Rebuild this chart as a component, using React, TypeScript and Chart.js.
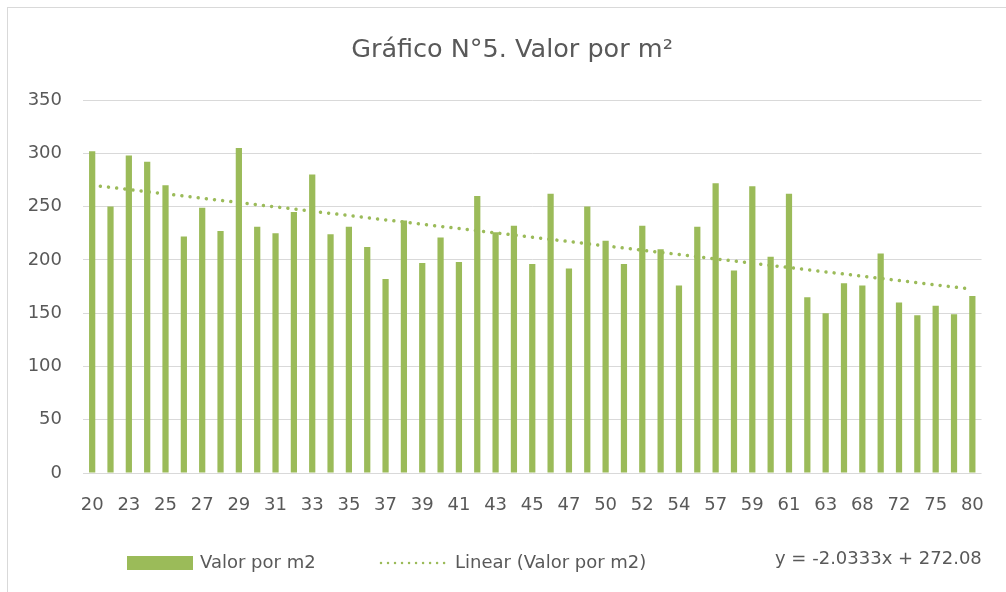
import React, { useEffect, useRef } from "react";
import { Chart, registerables } from "chart.js";

Chart.register(...registerables);

const TITLE = "Gráfico N°5. Valor por m²";
const SERIES_LABEL = "Valor por m2";
const TREND_LABEL = "Linear (Valor por m2)";
const TREND_SLOPE = -2.0333;
const TREND_INTERCEPT = 272.08;
const EQUATION = "y = -2.0333x + 272.08";

const categories = [
  "20", "21", "23", "24", "25", "26", "27", "28", "29", "30",
  "31", "32", "33", "34", "35", "36", "37", "38", "39", "40",
  "41", "42", "43", "44", "45", "46", "47", "48", "50", "51",
  "52", "53", "54", "55", "57", "58", "59", "60", "61", "62",
  "63", "65", "68", "70", "72", "74", "75", "78", "80",
];

const values = [
  302, 250, 298, 292, 270, 222, 249, 227, 305, 231,
  225, 245, 280, 224, 231, 212, 182, 237, 197, 221,
  198, 260, 226, 232, 196, 262, 192, 250, 218, 196,
  232, 210, 176, 231, 272, 190, 269, 203, 262, 165,
  150, 178, 176, 206, 160, 148, 157, 149, 166,
];

const yTicks = [0, 50, 100, 150, 200, 250, 300, 350];

const GREEN = "#9BBB59";
const TEXT = "#595959";
const GRID = "#D9D9D9";
const FONT = '"DejaVu Sans", "Open Sans", sans-serif';

export default function App() {
  const ref = useRef<HTMLCanvasElement | null>(null);

  useEffect(() => {
    document.body.style.overflow = "hidden";
    const trend = categories.map((_, i) => TREND_INTERCEPT + TREND_SLOPE * (i + 1));

    const overlay = {
      id: "overlay",
      beforeDraw(chart: any) {
        const ctx = chart.ctx;
        ctx.save();
        ctx.fillStyle = "#fff";
        ctx.fillRect(0, 0, chart.width, chart.height);
        ctx.restore();
      },
      afterDraw(chart: any) {
        const ctx = chart.ctx;
        ctx.save();
        ctx.fillStyle = TEXT;
        ctx.font = `25.5px ${FONT}`;
        ctx.textAlign = "center";
        ctx.textBaseline = "alphabetic";
        ctx.fillText(TITLE, 504, 49);

        ctx.font = `18px ${FONT}`;
        ctx.textAlign = "left";
        ctx.textBaseline = "middle";
        ctx.fillStyle = GREEN;
        ctx.fillRect(119, 548, 66, 14);
        ctx.fillStyle = TEXT;
        ctx.fillText(SERIES_LABEL, 192, 555);

        ctx.strokeStyle = GREEN;
        ctx.lineWidth = 2.5;
        ctx.lineCap = "round";
        ctx.setLineDash([0.01, 7]);
        ctx.beginPath();
        ctx.moveTo(373, 555);
        ctx.lineTo(441, 555);
        ctx.stroke();
        ctx.setLineDash([]);
        ctx.fillText(TREND_LABEL, 447, 555);

        ctx.fillText(EQUATION, 767, 551);
        ctx.restore();
      },
    };

    const chart = new Chart(ref.current as HTMLCanvasElement, {
      data: {
        labels: categories,
        datasets: [
          {
            type: "line",
            label: TREND_LABEL,
            data: trend,
            borderColor: GREEN,
            borderWidth: 3.5,
            borderDash: [0.01, 8.2],
            borderCapStyle: "round",
            pointRadius: 0,
            fill: false,
            order: 0,
          },
          {
            type: "bar",
            label: SERIES_LABEL,
            data: values,
            backgroundColor: GREEN,
            borderWidth: 0,
            categoryPercentage: 1,
            barPercentage: 0.34,
            order: 1,
          },
        ],
      } as any,
      options: {
        animation: false,
        responsive: false,
        maintainAspectRatio: false,
        layout: { padding: { top: 92, right: 19, bottom: 69, left: 0 } },
        plugins: {
          legend: { display: false },
          title: { display: false },
          tooltip: { enabled: false },
        },
        scales: {
          x: {
            grid: { display: false, drawTicks: false },
            border: { display: false },
            afterFit(scale: any) {
              scale.height = 50;
            },
            ticks: {
              autoSkip: false,
              maxRotation: 0,
              minRotation: 0,
              padding: 22,
              color: TEXT,
              font: { family: FONT, size: 18 },
              callback: (_v: any, i: number) => (i % 2 === 0 ? categories[i] : ""),
            },
          },
          y: {
            min: yTicks[0],
            max: yTicks[yTicks.length - 1],
            afterFit(scale: any) {
              scale.width = 75;
            },
            afterBuildTicks(scale: any) {
              scale.ticks = yTicks.map((v) => ({ value: v }));
            },
            grid: { color: GRID, lineWidth: 1, drawTicks: false },
            border: { display: false },
            ticks: {
              padding: 21,
              color: TEXT,
              font: { family: FONT, size: 18 },
            },
          },
        },
      } as any,
      plugins: [overlay],
    });
    return () => chart.destroy();
  }, []);

  return (
    <div
      style={{
        position: "absolute",
        left: 7,
        top: 7,
        width: 998,
        height: 584,
        borderLeft: `1px solid ${GRID}`,
        borderTop: `1px solid ${GRID}`,
        background: "#fff",
      }}
    >
      <canvas ref={ref} width={998} height={584} style={{ display: "block" }} />
    </div>
  );
}
